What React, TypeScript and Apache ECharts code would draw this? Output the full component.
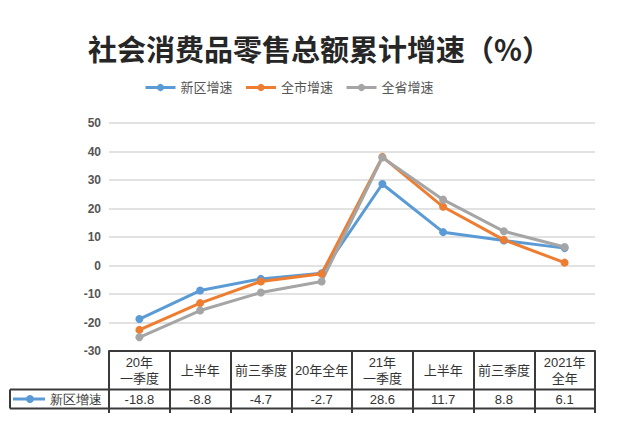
import React, { useEffect, useRef } from "react";
import * as echarts from "echarts";

const categories = ["20年\n一季度", "上半年", "前三季度", "20年全年", "21年\n一季度", "上半年", "前三季度", "2021年\n全年"];
const seriesNames = ["新区增速", "全市增速", "全省增速"];
const xinqu = [-18.8, -8.8, -4.7, -2.7, 28.6, 11.7, 8.8, 6.1];
const quanshi = [-22.6, -13.2, -5.6, -2.9, 38.1, 20.6, 9.0, 1.0];
const quansheng = [-25.2, -15.8, -9.5, -5.6, 37.9, 23.1, 12.0, 6.5];
const colors = ["#5b9bd5", "#ed7d31", "#a5a5a5"];

const W = 641;
const H = 425;
const G_LEFT = 109;
const G_RIGHT = 595;
const G_TOP = 123;
const G_BOTTOM = 351;
const ROW1 = 389.5;
const ROW2 = 408.5;
const FONT = "'Liberation Sans', 'Noto Sans CJK SC', sans-serif";
const LINE_C = "#3a3a3a";

export default function App() {
  const ref = useRef<HTMLDivElement>(null);
  useEffect(() => {
    document.body.style.margin = "0";
    const chart = echarts.init(ref.current!, null, { renderer: "svg" });
    const mk = (name: string, data: number[], color: string) => ({
      name,
      type: "line",
      data,
      symbol: "circle",
      symbolSize: 8,
      lineStyle: { width: 3, color },
      itemStyle: { color },
      z: 3,
    });
    chart.setOption({
      animation: false,
      backgroundColor: "#ffffff",
      title: {
        text: "社会消费品零售总额累计增速（%）",
        left: 83,
        top: 28,
        textStyle: { fontSize: 29, fontWeight: "bold", color: "#262626", fontFamily: "'Noto Sans CJK SC', sans-serif" },
      },
      legend: {
        left: 139,
        top: 76,
        itemWidth: 30,
        itemHeight: 9,
        itemGap: 12,
        textStyle: { fontSize: 13, color: "#555", fontFamily: FONT },
        lineStyle: { width: 3 },
        data: seriesNames,
      },
      grid: { left: G_LEFT, right: W - G_RIGHT, top: G_TOP, bottom: H - G_BOTTOM, containLabel: false },
      xAxis: [
        {
          type: "category",
          data: categories,
          boundaryGap: true,
          position: "bottom",
          axisLine: { show: true, onZero: false, lineStyle: { color: LINE_C, width: 2 } },
          axisTick: { show: true, interval: 0, length: 62, lineStyle: { color: LINE_C, width: 2 } },
          axisLabel: {
            interval: 0,
            margin: 19,
            verticalAlign: "middle",
            lineHeight: 16,
            fontSize: 13,
            color: "#333",
            fontFamily: FONT,
          },
        },
        {
          type: "category",
          data: categories,
          boundaryGap: true,
          position: "bottom",
          axisLine: { show: false, onZero: false },
          axisTick: { show: false },
          axisLabel: {
            interval: 0,
            margin: 48,
            verticalAlign: "middle",
            fontSize: 13,
            color: "#333",
            fontFamily: FONT,
            formatter: (_v: string, i: number) => String(xinqu[i]),
          },
        },
      ],
      yAxis: {
        type: "value",
        min: -30,
        max: 50,
        interval: 10,
        axisLine: { show: false },
        axisTick: { show: false },
        axisLabel: { margin: 8, fontSize: 12, color: "#555", fontFamily: FONT, fontWeight: "bold" },
        splitLine: { lineStyle: { color: "#d9d9d9", width: 1.5 } },
      },
      series: [
        mk(seriesNames[0], xinqu, colors[0]),
        mk(seriesNames[1], quanshi, colors[1]),
        mk(seriesNames[2], quansheng, colors[2]),
      ],
      graphic: [
        { type: "line", shape: { x1: 10, y1: ROW1, x2: G_RIGHT, y2: ROW1 }, style: { stroke: LINE_C, lineWidth: 2 } },
        { type: "line", shape: { x1: 10, y1: ROW2, x2: G_RIGHT, y2: ROW2 }, style: { stroke: LINE_C, lineWidth: 2 } },
        { type: "line", shape: { x1: 10, y1: ROW1, x2: 10, y2: ROW2 }, style: { stroke: LINE_C, lineWidth: 2 } },
        { type: "line", shape: { x1: 13, y1: (ROW1 + ROW2) / 2, x2: 45, y2: (ROW1 + ROW2) / 2 }, style: { stroke: colors[0], lineWidth: 3 } },
        { type: "circle", shape: { cx: 30, cy: (ROW1 + ROW2) / 2, r: 4 }, style: { fill: colors[0] } },
        {
          type: "text",
          x: 50,
          y: (ROW1 + ROW2) / 2,
          style: { text: seriesNames[0], fontSize: 13, fill: "#333", font: "13px 'Noto Sans CJK SC', sans-serif", verticalAlign: "middle" },
        },
      ],
    });
    return () => chart.dispose();
  }, []);
  return <div ref={ref} style={{ width: W, height: H }} />;
}
